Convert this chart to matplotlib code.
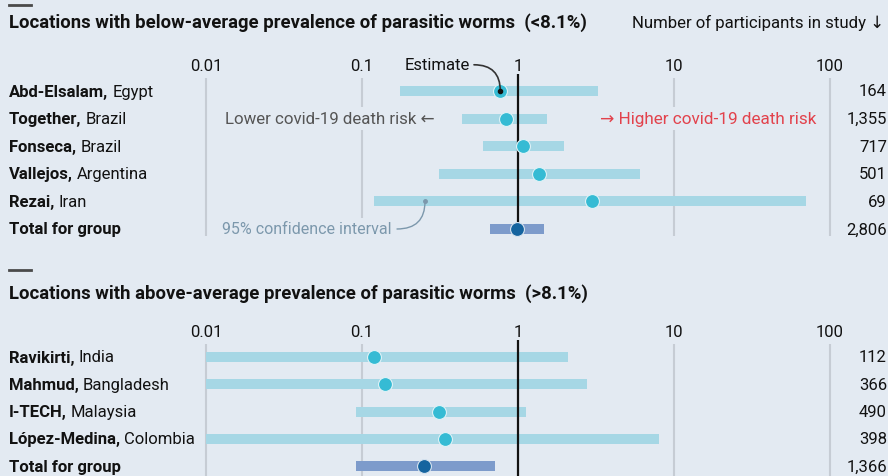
import matplotlib
matplotlib.use("Agg")
import matplotlib.pyplot as plt
import numpy as np

# data (odds ratio, log scale)
top_names = ["Abd-Elsalam,", "Together,", "Fonseca,", "Vallejos,", "Rezai,"]
top_places = ["Egypt", "Brazil", "Brazil", "Argentina", "Iran"]
top_est = [0.77, 0.84, 1.08, 1.36, 2.98]
top_lo = [0.175, 0.44, 0.60, 0.31, 0.12]
top_hi = [3.26, 1.53, 1.97, 6.05, 70.0]
top_n = ["164", "1,355", "717", "501", "69"]
top_total = [0.98, 0.66, 1.47]   # estimate, low, high
top_total_n = "2,806"

bot_names = ["Ravikirti,", "Mahmud,", "I-TECH,", "López-Medina,"]
bot_places = ["India", "Bangladesh", "Malaysia", "Colombia"]
bot_est = [0.12, 0.14, 0.31, 0.34]
bot_lo = [0.01, 0.01, 0.092, 0.01]
bot_hi = [2.09, 2.77, 1.13, 8.0]
bot_n = ["112", "366", "490", "398"]
bot_total = [0.25, 0.092, 0.71]
bot_total_n = "1,366"

ticks = [0.01, 0.1, 1, 10, 100]
tick_labels = ["0.01", "0.1", "1", "10", "100"]

BG = "#e3eaf2"
CI = "#a6d7e5"
DOT = "#35bbd4"
TOT_BAR = "#7d9bcb"
TOT_DOT = "#15649f"
GRID = "#c6ccd4"
TXT = "#121212"
RED = "#e2424c"
GREY = "#555555"
CIGREY = "#7c98ac"

plt.rcParams["font.family"] = ["Roboto", "DejaVu Sans"]

W, H = 888, 477
fig = plt.figure(figsize=(W / 100, H / 100), dpi=100, facecolor=BG)

X1PX = 518.0   # pixel position of 1
DEC = 156.0    # pixels per decade
FS = 12        # body text size


def px2x(px):
    return 10 ** ((px - X1PX) / DEC)


def fx(px):
    return px / W


def fy(py):
    return 1 - py / H


renderer = fig.canvas.get_renderer()


def make_panel(top_px, bot_px, row0, step):
    ax = fig.add_axes([0, fy(bot_px), 1, (bot_px - top_px) / H])
    ax.set_xscale("log")
    ax.set_xlim(px2x(0), px2x(W))
    ax.set_ylim((bot_px - row0) / step, (top_px - row0) / step)
    ax.axis("off")
    ax.patch.set_alpha(0)
    return ax


def rowlabel(ax, r, name, place):
    y_px = ax.transData.transform((1, r))[1]
    yf = y_px / H
    t = fig.text(fx(9), yf, name, fontsize=FS, fontweight="bold",
                 color=TXT, va="center", ha="left")
    if place:
        bb = t.get_window_extent(renderer)
        fig.text(bb.x1 / W + 4 / W, yf, place, fontsize=FS,
                 color=TXT, va="center", ha="left")


def panel(ax, names, places, est, lo, hi, nums, total, total_n, grid_top, grid_bot):
    nrow = len(names)
    for t in ticks:
        if t == 1:
            continue
        ax.plot([t, t], [grid_top, grid_bot], color=GRID, lw=1.5, zorder=1,
                solid_capstyle="butt")
    ax.plot([1, 1], [grid_top - 0.15, grid_bot], color=TXT, lw=1.6, zorder=3,
            solid_capstyle="butt")
    for t, lab in zip(ticks, tick_labels):
        ax.text(t, grid_top - 0.47, lab, ha="center", va="center",
                fontsize=FS, color=TXT)
    for i in range(nrow):
        ax.plot([lo[i], hi[i]], [i, i], color=CI, lw=7.2, zorder=2,
                solid_capstyle="butt")
        ax.plot(est[i], i, "o", ms=10, color=DOT, mec="#dff2f7", mew=0.8, zorder=4)
        rowlabel(ax, i, names[i], places[i])
        ax.text(px2x(887), i, nums[i], ha="right", va="center",
                fontsize=FS, color=TXT)
    r = nrow
    ax.plot([total[1], total[2]], [r, r], color=TOT_BAR, lw=7.2, zorder=2,
            solid_capstyle="butt")
    ax.plot(total[0], r, "o", ms=10, color=TOT_DOT, mec="#d6e3ef", mew=0.8, zorder=4)
    rowlabel(ax, r, "Total for group", None)
    ax.text(px2x(887), r, total_n, ha="right", va="center", fontsize=FS, color=TXT)


# ---- top panel
STEP1 = 27.6
ax1 = make_panel(55, 248, 92, STEP1)
panel(ax1, top_names, top_places, top_est, top_lo, top_hi, top_n,
      top_total, top_total_n, (79 - 92) / STEP1, (237 - 92) / STEP1)

# ---- bottom panel
STEP2 = 27.3
ax2 = make_panel(315, 477, 358, STEP2)
panel(ax2, bot_names, bot_places, bot_est, bot_lo, bot_hi, bot_n,
      bot_total, bot_total_n, (345 - 358) / STEP2, (477 - 358) / STEP2 + 0.2)

# headers
for ypx in (6, 271):
    fig.add_artist(plt.Line2D([fx(9), fx(31)], [fy(ypx), fy(ypx)],
                              color="#4a4a4a", lw=2.0))
fig.text(fx(9), fy(23), "Locations with below-average prevalence of parasitic worms  (<8.1%)",
         fontsize=13.3, fontweight="bold", color=TXT, va="center", ha="left")
fig.text(fx(884), fy(23), "Number of participants in study \u2193",
         fontsize=12.1, color=TXT, va="center", ha="right")
fig.text(fx(9), fy(294), "Locations with above-average prevalence of parasitic worms  (>8.1%)",
         fontsize=13.3, fontweight="bold", color=TXT, va="center", ha="left")

# annotations, top panel
bbox = dict(boxstyle="square,pad=0.25", fc=BG, ec="none")
ax1.text(px2x(435), 1, "Lower covid-19 death risk \u2190", ha="right", va="center",
         fontsize=12.2, color=GREY, bbox=bbox, zorder=5)
ax1.text(px2x(600), 1, "\u2192 Higher covid-19 death risk", ha="left", va="center",
         fontsize=12.3, color=RED, bbox=bbox, zorder=5)
ax1.text(px2x(392), 5, "95% confidence interval", ha="right", va="center",
         fontsize=11.5, color=CIGREY, bbox=bbox, zorder=5)
ax1.text(px2x(470), -0.95, "Estimate", ha="right", va="center",
         fontsize=12, color=TXT, bbox=bbox, zorder=5)

ax1.annotate("", xy=(top_est[0], 0), xytext=(px2x(474), -0.95),
             arrowprops=dict(arrowstyle="-", color="#333333", lw=1.2,
                             shrinkA=0, shrinkB=0,
                             connectionstyle="angle3,angleA=0,angleB=90"),
             zorder=6)
ax1.plot(top_est[0], 0, "o", ms=3, color="#111111", zorder=7)
ax1.annotate("", xy=(px2x(425), 4), xytext=(px2x(397), 5),
             arrowprops=dict(arrowstyle="-", color=CIGREY, lw=1.0,
                             shrinkA=0, shrinkB=0,
                             connectionstyle="angle3,angleA=0,angleB=90"),
             zorder=6)
ax1.plot(px2x(425), 4, "o", ms=2.5, color=CIGREY, zorder=7)

fig.savefig("out.png", dpi=100, facecolor=BG)
